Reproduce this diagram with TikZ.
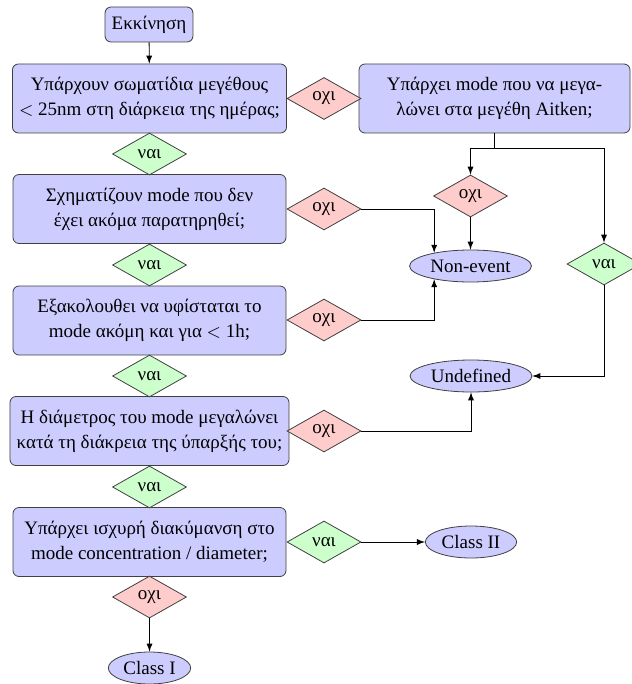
\documentclass[tikz,border=0pt]{standalone}
\usepackage{fontspec}
\setmainfont{Liberation Serif}
\usetikzlibrary{shapes.geometric}

\tikzset{box_style/.style={rectangle, rounded corners=3pt, draw=black!75, fill=blue!20, minimum width=136.5pt, minimum height=34.5pt, align=center, font=\fontsize{9.5}{12.5}\selectfont}}
\tikzset{no_style/.style={diamond, draw=black!75, fill=red!20, inner sep=0pt, minimum width=37pt, minimum height=21pt, font=\fontsize{9.5}{12}\selectfont}}
\tikzset{yes_style/.style={diamond, draw=black!75, fill=green!20, inner sep=0pt, minimum width=37pt, minimum height=21pt, font=\fontsize{9.5}{12}\selectfont}}
\tikzset{end_style/.style={ellipse, draw=black!75, fill=blue!20, inner sep=1.5pt, minimum height=16pt, font=\fontsize{9.5}{12}\selectfont}}

\begin{document}
\begin{tikzpicture}[x=0.5pt, y=-0.5pt, >=latex]
    \useasboundingbox (0,0) rectangle (631,684);

    \node[box_style, minimum width=41pt, minimum height=17.5pt] (start) at (149,24.5) {Εκκίνηση};

    \node[box_style] (q1) at (149.5,98.5) {Υπάρχουν σωματίδια μεγέθους\\$<$ 25nm στη διάρκεια της ημέρας;};
    \node[box_style] (q2) at (149.5,209) {Σχηματίζουν mode που δεν\\έχει ακόμα παρατηρηθεί;};
    \node[box_style] (q3) at (149.5,320.5) {Εξακολουθει να υφίσταται το\\mode ακόμη και για $<$\ 1h;};
    \node[box_style] (q4) at (149.5,431) {Η διάμετρος του mode μεγαλώνει\\κατά τη διάκρεια της ύπαρξής του;};
    \node[box_style] (q5) at (149.5,542) {Υπάρχει ισχυρή διακύμανση στο\\mode concentration / diameter;};
    \node[box_style, minimum width=135.5pt] (aitken) at (494.5,98.5) {Υπάρχει mode που να μεγα-\\λώνει στα μεγέθη Aitken;};

    \node[yes_style] (yes1) at (149.5,154) {ναι};
    \node[yes_style] (yes2) at (149.5,265) {ναι};
    \node[yes_style] (yes3) at (149.5,376) {ναι};
    \node[yes_style] (yes4) at (149.5,487) {ναι};
    \node[yes_style] (yes5) at (324,542) {ναι};
    \node[yes_style] (yesA) at (604,264) {ναι};

    \node[no_style] (no1) at (324,98.5) {οχι};
    \node[no_style] (no2) at (324,209) {οχι};
    \node[no_style] (no3) at (324,320) {οχι};
    \node[no_style] (no4) at (324,431) {οχι};
    \node[no_style] (no5) at (149.5,597) {οχι};
    \node[no_style] (noA) at (470.5,196) {οχι};

    \node[end_style] (nonevent) at (470.5,266) {Non-event};
    \node[end_style] (undefined) at (471,376) {Undefined};
    \node[end_style] (classII) at (471,542) {Class II};
    \node[end_style] (classI) at (149.5,668) {Class I};

    \coordinate (fork) at (494.5,148);

    \draw[->] (start) -- (q1);
    \draw[] (aitken) -- (fork);
    \draw[->] (fork) -| (noA);
    \draw[->] (fork) -| (yesA);
    \draw[->] (noA) -- (nonevent);
    \draw[->] (no2.east) -| (nonevent.160);
    \draw[->] (no3.east) -| (nonevent.200);
    \draw[->] (yesA.south) |- (undefined.east);
    \draw[->] (no4.east) -| (undefined.south);
    \draw[->] (yes5) -- (classII);
    \draw[->] (no5) -- (classI);

\end{tikzpicture}
\end{document}
